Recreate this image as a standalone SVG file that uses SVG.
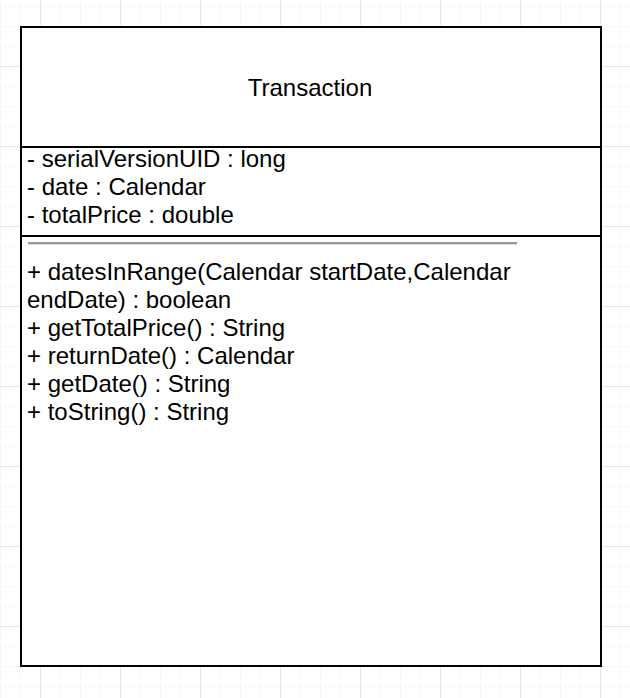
<svg xmlns="http://www.w3.org/2000/svg" width="630" height="698" viewBox="0 0 630 698">
  <defs>
    <pattern id="minor" width="20" height="20" patternUnits="userSpaceOnUse" x="0" y="6">
      <path d="M0 0H20M0 0V20" fill="none" stroke="#efefef" stroke-width="1"/>
    </pattern>
    <pattern id="major" width="80" height="80" patternUnits="userSpaceOnUse" x="40" y="66">
      <path d="M0 0H80M0 0V80" fill="none" stroke="#d4d4d4" stroke-width="1"/>
    </pattern>
  </defs>
  <style>
    .t { font-family: "Liberation Sans", Arial, Helvetica, sans-serif; font-size: 24px; fill: #000; }
    .box { fill: #fff; stroke: #000; stroke-width: 2; }
    .sep { stroke: #000; stroke-width: 2; }
  </style>
  <rect x="0" y="0" width="630" height="698" fill="#fff"/>
  <rect x="0" y="0" width="630" height="698" fill="url(#minor)"/>
  <rect x="0" y="0" width="630" height="698" fill="url(#major)"/>
  <g id="Transaction">
    <rect class="box" x="21" y="27" width="580" height="639"/>
    <line class="sep" x1="21" y1="147" x2="601" y2="147"/>
    <line class="sep" x1="21" y1="236" x2="601" y2="236"/>
    <rect x="28" y="242" width="489" height="2" fill="#999"/>
    <rect x="28" y="244" width="489" height="1" fill="#dcdcdc"/>
    <text class="t" x="310" y="96" text-anchor="middle">Transaction</text>
    <text class="t" x="27" y="167">- serialVersionUID : long</text>
    <text class="t" x="27" y="195">- date : Calendar</text>
    <text class="t" x="27" y="223">- totalPrice : double</text>
    <text class="t" x="27" y="280">+ datesInRange(Calendar startDate,Calendar</text>
    <text class="t" x="27" y="308">endDate) : boolean</text>
    <text class="t" x="27" y="336">+ getTotalPrice() : String</text>
    <text class="t" x="27" y="364">+ returnDate() : Calendar</text>
    <text class="t" x="27" y="392">+ getDate() : String</text>
    <text class="t" x="27" y="420">+ toString() : String</text>
  </g>
</svg>
